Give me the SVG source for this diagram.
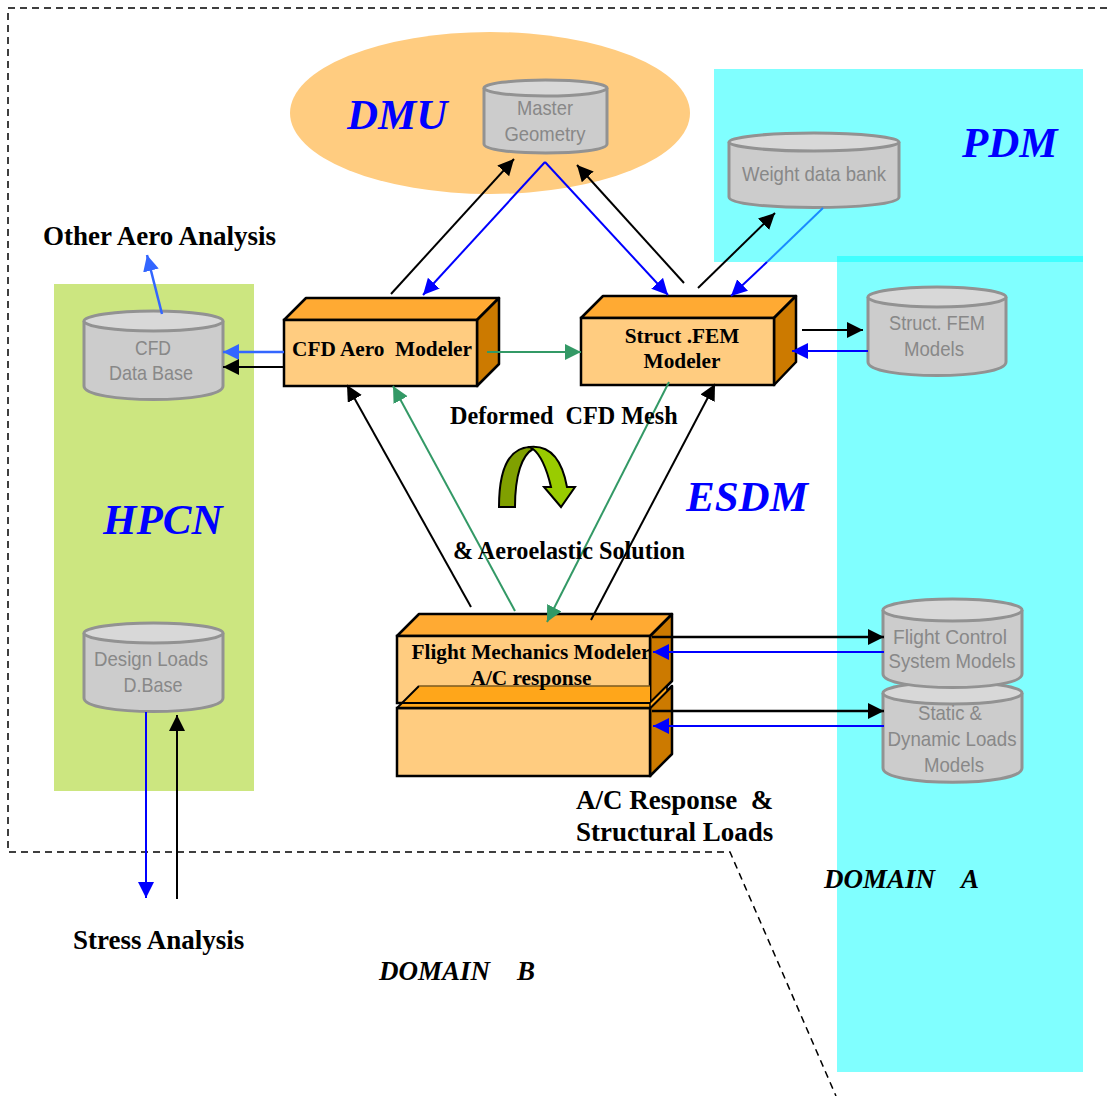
<svg xmlns="http://www.w3.org/2000/svg" width="1107" height="1096" viewBox="0 0 1107 1096">
<style>
text{white-space:pre}
.t{font-family:"Liberation Serif",serif;font-weight:bold;font-size:24.200px;fill:#000}
.w{font-size:27px}
.m{font-family:"Liberation Serif",serif;font-weight:bold;font-size:21.300px;fill:#000;text-anchor:middle}
.b{font-family:"Liberation Serif",serif;font-weight:bold;font-style:italic;font-size:43px;fill:#0000ff}
.d{font-family:"Liberation Serif",serif;font-weight:bold;font-style:italic;font-size:27px;fill:#000}
.g{font-family:"Liberation Sans",sans-serif;font-size:21px;fill:#888;text-anchor:middle}
.cy{fill:#cccccc;stroke:#929292;stroke-width:3}
.ct{fill:#d8d8d8;stroke:#929292;stroke-width:3}
.f{fill:#ffcc80;stroke:#000;stroke-width:2.500}
.tp{fill:#ffaa33;stroke:#000;stroke-width:2.500;stroke-linejoin:round}
.sd{fill:#cc7a00;stroke:#000;stroke-width:2.500;stroke-linejoin:round}
.k{stroke:#000;stroke-width:2;fill:none}
.h{stroke-width:2.500}
.u{stroke:#0000ff;stroke-width:2;fill:none}
.l{stroke:#3366ff;stroke-width:2.500;fill:none}
.n{stroke:#339966;stroke-width:2;fill:none}
.dash{stroke:#000;stroke-width:1.500;stroke-dasharray:7 5;fill:none}
</style>
<defs>
<marker id="ak" markerUnits="userSpaceOnUse" markerWidth="18" markerHeight="18" refX="16" refY="8" orient="auto"><path d="M0,0L16,8L0,16Z" fill="#000"/></marker>
<marker id="au" markerUnits="userSpaceOnUse" markerWidth="18" markerHeight="18" refX="16" refY="8" orient="auto"><path d="M0,0L16,8L0,16Z" fill="#0000ff"/></marker>
<marker id="al" markerUnits="userSpaceOnUse" markerWidth="18" markerHeight="18" refX="16" refY="8" orient="auto"><path d="M0,0L16,8L0,16Z" fill="#3366ff"/></marker>
<marker id="an" markerUnits="userSpaceOnUse" markerWidth="18" markerHeight="18" refX="16" refY="8" orient="auto"><path d="M0,0L16,8L0,16Z" fill="#339966"/></marker>
</defs>
<g id="regions">
<rect x="714" y="69" width="369" height="193" fill="#80ffff"/>
<rect x="837" y="256" width="246" height="816" fill="#80ffff"/>
<rect x="837" y="256" width="246" height="6" fill="#40ffff"/>
<rect x="54" y="284" width="200" height="507" fill="#cce680"/>
<ellipse cx="490" cy="113" rx="200" ry="81" fill="#ffcc80"/>
</g>
<g id="boundary">
<path class="dash" d="M1107,8H8V852H730L836,1096"/>
</g>
<g id="node-master"><path class="cy" d="M484,88V144C484,156 607,156 607,144V88"/><ellipse class="ct" cx="545.500" cy="88" rx="61.500" ry="8"/><text class="g" x="545" y="115" textLength="56" lengthAdjust="spacingAndGlyphs">Master</text><text class="g" x="545" y="141" textLength="81" lengthAdjust="spacingAndGlyphs">Geometry</text></g>
<g id="node-weight"><path class="cy" d="M729,142V197C729,211 899,211 899,197V142"/><ellipse class="ct" cx="814" cy="142" rx="85" ry="9"/><text class="g" x="814" y="181" textLength="144" lengthAdjust="spacingAndGlyphs">Weight data bank</text></g>
<g id="node-structdb"><path class="cy" d="M868,297V362C868,380 1006,380 1006,362V297"/><ellipse class="ct" cx="937" cy="297" rx="69" ry="10"/><text class="g" x="937" y="330" textLength="96" lengthAdjust="spacingAndGlyphs">Struct. FEM</text><text class="g" x="934" y="356" textLength="60" lengthAdjust="spacingAndGlyphs">Models</text></g>
<g id="node-cfddb"><path class="cy" d="M84,321V386C84,404 223,404 223,386V321"/><ellipse class="ct" cx="153.500" cy="321" rx="69.500" ry="10"/><text class="g" x="153" y="355" textLength="36" lengthAdjust="spacingAndGlyphs">CFD</text><text class="g" x="151" y="380" textLength="84" lengthAdjust="spacingAndGlyphs">Data Base</text></g>
<g id="node-loadsdb"><path class="cy" d="M84,633V698C84,716 223,716 223,698V633"/><ellipse class="ct" cx="153.500" cy="633" rx="69.500" ry="10"/><text class="g" x="151" y="666" textLength="114" lengthAdjust="spacingAndGlyphs">Design Loads</text><text class="g" x="153" y="692" textLength="59" lengthAdjust="spacingAndGlyphs">D.Base</text></g>
<g id="node-loadsmodels"><path class="cy" d="M883,693V768C883,787 1022,787 1022,768V693"/><ellipse class="ct" cx="952.500" cy="693" rx="69.500" ry="11"/><text class="g" x="950" y="720" textLength="64" lengthAdjust="spacingAndGlyphs">Static &amp;</text><text class="g" x="952" y="746" textLength="129" lengthAdjust="spacingAndGlyphs">Dynamic Loads</text><text class="g" x="954" y="772" textLength="60" lengthAdjust="spacingAndGlyphs">Models</text></g>
<g id="node-fcs"><path class="cy" d="M883,610V674C883,692 1022,692 1022,674V610"/><ellipse class="ct" cx="952.500" cy="610" rx="69.500" ry="11"/><text class="g" x="950" y="644" textLength="114" lengthAdjust="spacingAndGlyphs">Flight Control</text><text class="g" x="952" y="668" textLength="127" lengthAdjust="spacingAndGlyphs">System Models</text></g>
<g id="node-cfd"><path class="tp" d="M284,320L306,298H499L477,320Z"/><path class="sd" d="M477,320L499,298V364L477,386Z"/><rect class="f" x="284" y="320" width="193" height="66"/><text class="m" x="382" y="356">CFD Aero  Modeler</text></g>
<g id="node-struct"><path class="tp" d="M581,318L603,296H796L774,318Z"/><path class="sd" d="M774,318L796,296V362L774,385Z"/><rect class="f" x="581" y="318" width="193" height="67"/><text class="m" x="682" y="343">Struct .FEM</text><text class="m" x="682" y="368">Modeler</text></g>
<g id="node-flight"><path class="sd" d="M650,636L672,614V681L650,703Z"/><path class="tp" d="M397,636L419,614H672L650,636Z"/><rect class="f" x="397" y="636" width="253" height="67"/></g>
<g id="node-loads"><path class="sd" d="M650,708L672,686V754L650,776Z"/><rect class="f" x="397" y="708" width="253" height="68"/><path d="M397,708L419,686H650V708Z" fill="#ffa61a"/><path d="M397,708L419,686" stroke="#000" stroke-width="2" fill="none"/><path d="M419,686H650" stroke="#7a5a20" stroke-width="1.500" fill="none"/><path d="M397,708H650" stroke="#000" stroke-width="2.500" fill="none"/><path d="M402,703H650" stroke="#000" stroke-width="2" fill="none"/><path d="M650,703L667,686V691L650,708Z" fill="#ffa61a" stroke="#000" stroke-width="1.500"/><text class="m" x="531" y="659">Flight Mechanics Modeler</text><text class="m" x="531" y="685">A/C response</text></g>
<g id="connectors">
<path class="k" d="M391,294L514,159" marker-end="url(#ak)"/>
<path class="u" d="M545,162L423,295" marker-end="url(#au)"/>
<path class="u" d="M545,162L668,295" marker-end="url(#au)"/>
<path class="k" d="M684,283L577,165" marker-end="url(#ak)"/>
<path class="k" d="M698,288L775,213" marker-end="url(#ak)"/>
<path stroke="#1a8cff" stroke-width="2" fill="none" d="M823,208L767,262"/>
<path class="u" d="M767,262L731,296" marker-end="url(#au)"/>
<path class="k" d="M802,330H863" marker-end="url(#ak)"/>
<path class="u" d="M868,351H792" marker-end="url(#au)"/>
<path class="l" d="M284,352H223" marker-end="url(#al)"/>
<path class="k" d="M284,367H223" marker-end="url(#ak)"/>
<path class="l" d="M162,314L147,255" marker-end="url(#al)"/>
<path class="n" d="M487,352H581" marker-end="url(#an)"/>
<path class="k" d="M471,607L347,385" marker-end="url(#ak)"/>
<path class="n" d="M515,611L393,386" marker-end="url(#an)"/>
<path class="n" d="M669,382L547,622" marker-end="url(#an)"/>
<path class="k" d="M591,620L715,384" marker-end="url(#ak)"/>
<path class="k h" d="M652,637H884" marker-end="url(#ak)"/>
<path class="u h" d="M884,652H653" marker-end="url(#au)"/>
<path class="k h" d="M652,711H884" marker-end="url(#ak)"/>
<path class="u h" d="M884,726H653" marker-end="url(#au)"/>
<path class="u" d="M146,712V898" marker-end="url(#au)"/>
<path class="k" d="M177,899V715" marker-end="url(#ak)"/>
</g>
<g id="cycle">
<path d="M499,507C499,470 508,448 530,447L533,449C522,455 515,475 515,507Z" fill="#80a000" stroke="#000" stroke-width="2"/>
<path d="M530,447C550,445 562,460 567,487H575L561,507L544,487H551C547,470 542,456 533,449Z" fill="#99cc00" stroke="#000" stroke-width="2"/>
</g>
<g id="labels">
<text class="b" x="347" y="129">DMU</text>
<text class="b" x="962" y="157">PDM</text>
<text class="b" x="103" y="534">HPCN</text>
<text class="b" x="686" y="511">ESDM</text>
<text class="t w" x="43" y="245">Other Aero Analysis</text>
<text class="t" x="450" y="424">Deformed  CFD Mesh</text>
<text class="t" x="453" y="559">&amp; Aeroelastic Solution</text>
<text class="t w" x="576" y="809">A/C Response  &amp;</text>
<text class="t w" x="576" y="841">Structural Loads</text>
<text class="t w" x="73" y="949">Stress Analysis</text>
<text class="d" x="824" y="888">DOMAIN    A</text>
<text class="d" x="379" y="980">DOMAIN    B</text>
</g>
</svg>
